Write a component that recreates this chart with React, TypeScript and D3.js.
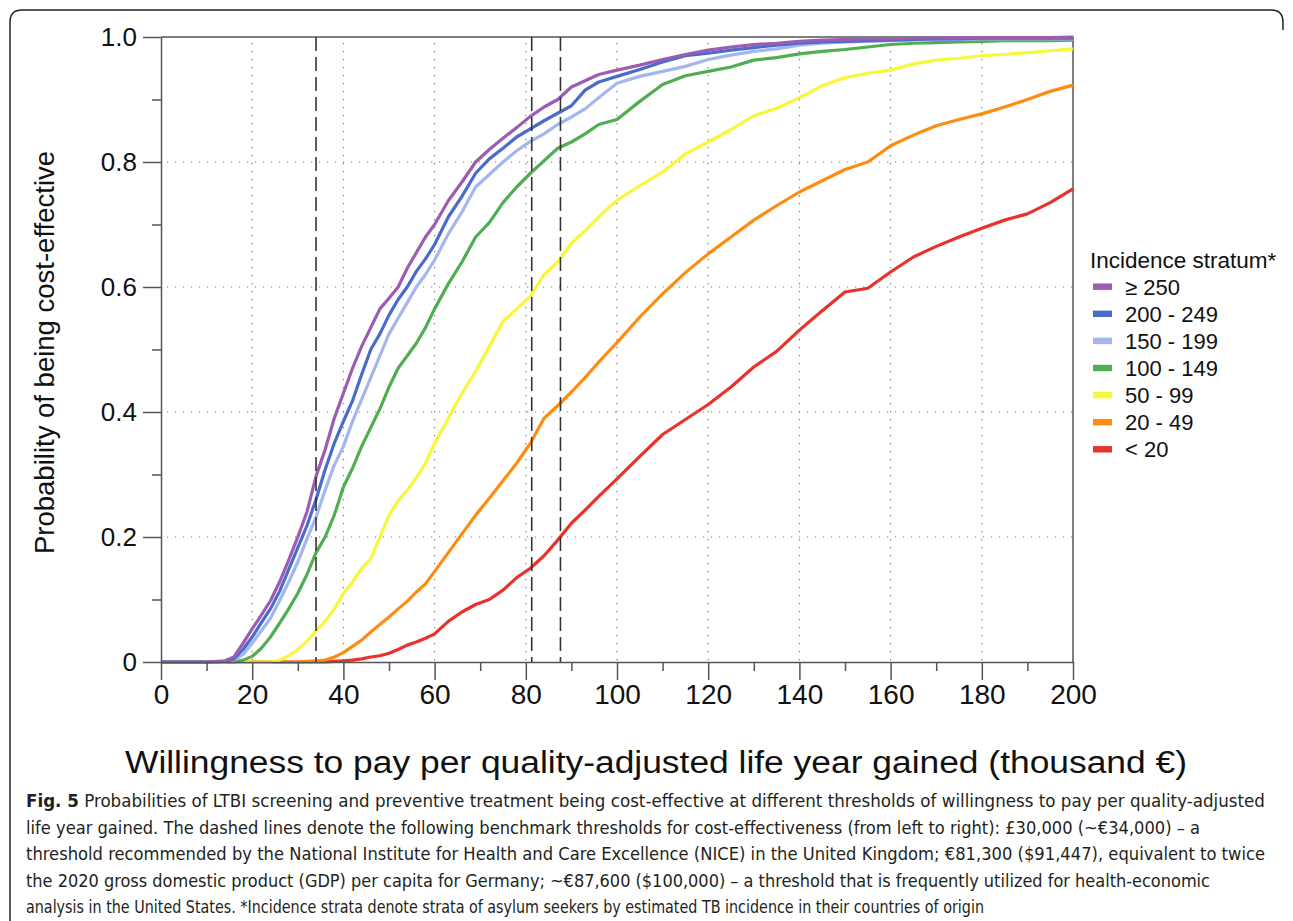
import React, { useEffect, useRef } from "react";
import * as d3 from "d3";

// willingness to pay (thousand €)
const wtp = [0, 10, 14, 16, 18, 20, 22, 24, 26, 28, 30, 32, 34, 36, 38, 40, 42, 44, 46, 48, 50, 52, 54, 56, 58, 60,
  63, 66, 69, 72, 75, 78, 81, 84, 87, 90, 93, 96,
  100, 105, 110, 115, 120, 125, 130, 135, 140, 145, 150, 155, 160, 165, 170, 175, 180, 185, 190, 195, 200];

// probability of being cost-effective, per incidence stratum
const p250 = [0, 0, 0.002, 0.008, 0.03, 0.053, 0.075, 0.098, 0.128, 0.163, 0.2, 0.24, 0.297, 0.34, 0.39, 0.43, 0.47, 0.505, 0.535, 0.565, 0.582, 0.6, 0.63, 0.655, 0.68, 0.7,
  0.738, 0.768, 0.8, 0.82, 0.838, 0.855, 0.873, 0.888, 0.9, 0.92, 0.93, 0.94,
  0.947, 0.955, 0.964, 0.972, 0.979, 0.984, 0.988, 0.99, 0.993, 0.995, 0.996, 0.997, 0.997, 0.998, 0.998, 0.999, 0.999, 0.999, 0.999, 0.999, 1];
const p200 = [0, 0, 0.001, 0.005, 0.02, 0.04, 0.063, 0.085, 0.113, 0.148, 0.183, 0.218, 0.26, 0.308, 0.35, 0.385, 0.418, 0.46, 0.5, 0.525, 0.555, 0.58, 0.6, 0.625, 0.645, 0.668,
  0.712, 0.745, 0.782, 0.805, 0.822, 0.84, 0.853, 0.866, 0.878, 0.89, 0.915, 0.928,
  0.937, 0.948, 0.96, 0.97, 0.974, 0.979, 0.983, 0.987, 0.99, 0.992, 0.993, 0.994, 0.995, 0.996, 0.997, 0.997, 0.998, 0.998, 0.998, 0.998, 0.998];
const p150 = [0, 0, 0, 0.003, 0.012, 0.03, 0.05, 0.07, 0.098, 0.128, 0.16, 0.197, 0.232, 0.275, 0.315, 0.345, 0.385, 0.42, 0.455, 0.49, 0.525, 0.55, 0.575, 0.6, 0.62, 0.643,
  0.685, 0.72, 0.76, 0.78, 0.8, 0.818, 0.833, 0.845, 0.86, 0.872, 0.885, 0.903,
  0.926, 0.937, 0.945, 0.953, 0.964, 0.971, 0.977, 0.981, 0.987, 0.99, 0.992, 0.993, 0.994, 0.995, 0.996, 0.996, 0.997, 0.997, 0.997, 0.997, 0.997];
const p100 = [0, 0, 0, 0, 0.003, 0.009, 0.022, 0.04, 0.062, 0.085, 0.11, 0.14, 0.175, 0.2, 0.235, 0.28, 0.31, 0.345, 0.375, 0.405, 0.44, 0.47, 0.49, 0.51, 0.535, 0.565,
  0.605, 0.64, 0.68, 0.703, 0.735, 0.76, 0.782, 0.802, 0.822, 0.832, 0.845, 0.86,
  0.868, 0.897, 0.924, 0.938, 0.945, 0.952, 0.963, 0.967, 0.973, 0.977, 0.98, 0.984, 0.988, 0.99, 0.991, 0.992, 0.993, 0.994, 0.994, 0.994, 0.995];
const p50 = [0, 0, 0, 0, 0, 0, 0, 0, 0.003, 0.01, 0.02, 0.033, 0.05, 0.065, 0.085, 0.11, 0.128, 0.15, 0.165, 0.2, 0.235, 0.258, 0.275, 0.295, 0.318, 0.35,
  0.39, 0.43, 0.465, 0.505, 0.545, 0.565, 0.585, 0.62, 0.64, 0.67, 0.69, 0.712,
  0.739, 0.762, 0.784, 0.813, 0.832, 0.852, 0.874, 0.886, 0.903, 0.922, 0.935, 0.942, 0.947, 0.957, 0.963, 0.966, 0.97, 0.972, 0.975, 0.978, 0.981];
const p20 = [0, 0, 0, 0, 0, 0, 0, 0, 0, 0, 0, 0.001, 0.002, 0.003, 0.008, 0.015, 0.025, 0.035, 0.048, 0.06, 0.072, 0.085, 0.097, 0.112, 0.125, 0.145,
  0.175, 0.205, 0.235, 0.262, 0.29, 0.318, 0.35, 0.39, 0.41, 0.432, 0.455, 0.48,
  0.511, 0.552, 0.589, 0.623, 0.653, 0.68, 0.707, 0.73, 0.752, 0.77, 0.788, 0.8, 0.826, 0.843, 0.858, 0.868, 0.877, 0.888, 0.9, 0.913, 0.923];
const p0 = [0, 0, 0, 0, 0, 0, 0, 0, 0, 0, 0, 0, 0, 0, 0.001, 0.002, 0.003, 0.005, 0.008, 0.01, 0.014, 0.02, 0.027, 0.032, 0.038, 0.045,
  0.065, 0.08, 0.092, 0.1, 0.115, 0.135, 0.15, 0.17, 0.195, 0.222, 0.243, 0.265,
  0.293, 0.329, 0.364, 0.388, 0.412, 0.44, 0.472, 0.497, 0.531, 0.562, 0.592, 0.598, 0.624, 0.648, 0.665, 0.68, 0.694, 0.707, 0.717, 0.735, 0.757];

const strata = ["≥ 250", "200 - 249", "150 - 199", "100 - 149", "50 - 99", "20 - 49", "< 20"];
const strataColors = ["#9d5cb4", "#4a6bcc", "#a3b7ee", "#4fae50", "#f8f83a", "#ff8c10", "#e8322b"];
const strataValues = [p250, p200, p150, p100, p50, p20, p0];

const xTicks = [0, 20, 40, 60, 80, 100, 120, 140, 160, 180, 200];
const xMinor = [10, 30, 50, 70, 90, 110, 130, 150, 170, 190];
const yTicks = [0, 0.2, 0.4, 0.6, 0.8, 1.0];
const yMinor = [0.1, 0.3, 0.5, 0.7, 0.9];
const benchmarks = [34, 81.3, 87.6];

const captionLines = [
  "Probabilities of LTBI screening and preventive treatment being cost-effective at different thresholds of willingness to pay per quality-adjusted",
  "life year gained. The dashed lines denote the following benchmark thresholds for cost-effectiveness (from left to right): £30,000 (~€34,000) – a",
  "threshold recommended by the National Institute for Health and Care Excellence (NICE) in the United Kingdom; €81,300 ($91,447), equivalent to twice",
  "the 2020 gross domestic product (GDP) per capita for Germany; ~€87,600 ($100,000) – a threshold that is frequently utilized for health-economic",
  "analysis in the United States. *Incidence strata denote strata of asylum seekers by estimated TB incidence in their countries of origin",
];
const captionEnds = [1265, 1200, 1265, 1210, 984];

const FONT = "'Liberation Sans', Arial, Helvetica, sans-serif";
const CAPTION_FONT = "'Liberation Sans Narrow', 'DejaVu Sans Condensed', 'Open Sans', sans-serif";

const App = () => {
  const svgRef = useRef(null);

  useEffect(() => {
    const svg = d3.select(svgRef.current);
    svg.selectAll("*").remove();

    const left = 161, right = 1073, top = 37, bottom = 662;
    const x = d3.scaleLinear().domain([0, 200]).range([left, right]);
    const y = d3.scaleLinear().domain([0, 1]).range([bottom, top]);

    // figure frame (rounded, open at the bottom right)
    svg.append("path")
      .attr("d", `M10,921 L10,22 Q10,10 22,10 L1271,10 Q1283,10 1283,22 L1283,30`)
      .attr("fill", "none")
      .attr("stroke", "#222")
      .attr("stroke-width", 1.5);

    // dotted grid
    const grid = svg.append("g").attr("stroke", "#777").attr("stroke-width", 1.2).attr("stroke-dasharray", "1.2,6.8");
    xTicks.filter((d) => d > 0 && d < 200).forEach((d) => {
      grid.append("line").attr("x1", x(d)).attr("x2", x(d)).attr("y1", top + 6).attr("y2", bottom);
    });
    yTicks.filter((d) => d > 0 && d < 1).forEach((d) => {
      grid.append("line").attr("x1", left + 6).attr("x2", right).attr("y1", y(d)).attr("y2", y(d));
    });

    // plot box
    svg.append("path")
      .attr("d", `M${left},${top} L${right},${top} L${right},${bottom}`)
      .attr("fill", "none")
      .attr("stroke", "#555")
      .attr("stroke-width", 1.5);

    // curves
    const line = d3.line<number>()
      .x((_, i) => x(wtp[i]))
      .y((d) => y(d));
    const order = [6, 5, 4, 3, 2, 1, 0];
    order.forEach((k) => {
      svg.append("path")
        .attr("d", line(strataValues[k]))
        .attr("fill", "none")
        .attr("stroke", strataColors[k])
        .attr("stroke-width", 3.2)
        .attr("stroke-linejoin", "round");
    });

    // benchmark thresholds
    benchmarks.forEach((b) => {
      svg.append("line")
        .attr("x1", x(b)).attr("x2", x(b))
        .attr("y1", top).attr("y2", bottom)
        .attr("stroke", "#333")
        .attr("stroke-width", 1.6)
        .attr("stroke-dasharray", "14,6");
    });

    // axes
    const styleAxis = (g) => {
      g.selectAll(".domain").attr("stroke", "#555").attr("stroke-width", 1.5);
      g.selectAll(".tick line").attr("stroke", "#555").attr("stroke-width", 1.5);
      g.selectAll("text").attr("fill", "#111").style("font-family", FONT);
    };

    const yAxis = svg.append("g")
      .attr("transform", `translate(${left},0)`)
      .call(d3.axisLeft(y).tickValues(yTicks).tickSize(18).tickSizeOuter(0).tickPadding(6)
        .tickFormat((d) => (d === 0 ? "0" : d3.format(".1f")(d))));
    styleAxis(yAxis);
    yAxis.selectAll("text").style("font-size", "26px");
    const yAxisMinor = svg.append("g")
      .attr("transform", `translate(${left},0)`)
      .call(d3.axisLeft(y).tickValues(yMinor).tickSize(9).tickFormat(() => ""));
    styleAxis(yAxisMinor);
    yAxisMinor.select(".domain").remove();

    const xAxis = svg.append("g")
      .attr("transform", `translate(0,${bottom})`)
      .call(d3.axisBottom(x).tickValues(xTicks).tickSize(18).tickSizeOuter(0).tickPadding(4)
        .tickFormat((d) => String(d)));
    styleAxis(xAxis);
    xAxis.selectAll("text").style("font-size", "28px");
    const xAxisMinor = svg.append("g")
      .attr("transform", `translate(0,${bottom})`)
      .call(d3.axisBottom(x).tickValues(xMinor).tickSize(9).tickFormat(() => ""));
    styleAxis(xAxisMinor);
    xAxisMinor.select(".domain").remove();

    // axis titles
    svg.append("text")
      .attr("transform", `translate(44,${(top + bottom) / 2 + 3}) rotate(-90)`)
      .attr("text-anchor", "middle")
      .attr("dominant-baseline", "central")
      .style("font-family", FONT)
      .style("font-size", "27.5px")
      .attr("fill", "#111")
      .text("Probability of being cost-effective");

    svg.append("text")
      .attr("x", 656)
      .attr("y", 773)
      .attr("text-anchor", "middle")
      .attr("textLength", 1062)
      .attr("lengthAdjust", "spacingAndGlyphs")
      .style("font-family", FONT)
      .style("font-size", "31px")
      .attr("fill", "#111")
      .text("Willingness to pay per quality-adjusted life year gained (thousand €)");

    // legend
    const legend = svg.append("g");
    legend.append("text")
      .attr("x", 1090).attr("y", 268)
      .style("font-family", FONT).style("font-size", "22.5px").attr("fill", "#111")
      .text("Incidence stratum*");
    strata.forEach((s, i) => {
      const cy = 286.7 + i * 27.1;
      legend.append("rect")
        .attr("x", 1093).attr("y", cy - 3.2).attr("width", 19).attr("height", 6.4)
        .attr("fill", strataColors[i]);
      legend.append("text")
        .attr("x", 1125).attr("y", cy + 7.8)
        .style("font-family", FONT).style("font-size", "22px").attr("fill", "#111")
        .text(s);
    });

    // caption
    captionLines.forEach((t, i) => {
      const txt = svg.append("text")
        .attr("x", 26)
        .attr("y", 807 + i * 26.5)
        .attr("textLength", captionEnds[i] - 26)
        .attr("lengthAdjust", "spacingAndGlyphs")
        .style("font-family", CAPTION_FONT)
        .style("font-size", "18px")
        .attr("fill", "#231f20");
      if (i === 0) {
        txt.append("tspan").style("font-weight", "bold").text("Fig. 5");
        txt.append("tspan").text(" " + t);
      } else {
        txt.text(t);
      }
    });
  }, []);

  return (
    <svg
      ref={svgRef}
      width={1293}
      height={921}
      style={{ position: "absolute", left: 0, top: 0, background: "#fff" }}
    />
  );
};

export default App;
